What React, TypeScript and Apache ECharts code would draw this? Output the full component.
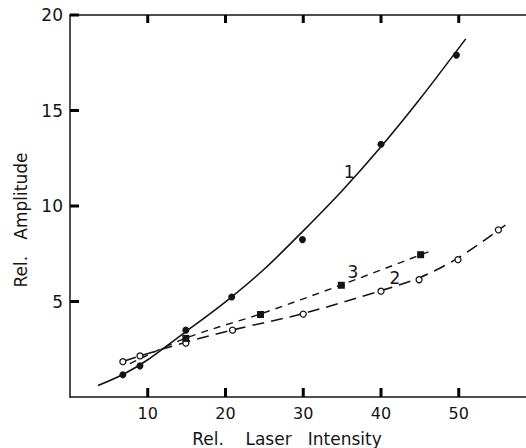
import React, { useEffect, useRef } from "react";
import * as echarts from "echarts";

const INK = "#141414";
const FONT = "DejaVu Sans";

// axis ranges and tick steps
const xRange = [0, 58.65];
const xStep = 10;
const yRange = [0, 20];
const yStep = 5;
const xTickValues = [10, 20, 30, 40, 50];
const yTickValues = [5, 10, 15, 20];

// Curve 1 (solid) measured points and drawn curve
const points1 = [[6.8, 1.16], [9.0, 1.63], [14.9, 3.5], [20.8, 5.24], [29.9, 8.24], [40, 13.23], [49.7, 17.9]];
const curve1 = [[3.6, 0.6], [7, 1.22], [10, 1.95], [15, 3.45], [20, 4.98], [25, 6.7], [30, 8.7], [35, 10.8], [40, 13.1], [45, 15.6], [50.9, 18.75]];

// Curve 2 (long dash, open circles)
const points2 = [[6.8, 1.85], [9.0, 2.15], [14.9, 2.82], [20.9, 3.5], [30, 4.34], [40, 5.54], [44.9, 6.14], [49.9, 7.19], [55.1, 8.75]];
const curve2 = [[7, 1.88], [9, 2.15], [15, 2.88], [21, 3.52], [30, 4.37], [40, 5.57], [45, 6.25], [50, 7.3], [56, 9.0]];

// Curve 3 (short dash, filled squares)
const points3 = [[14.9, 3.07], [24.5, 4.32], [34.9, 5.85], [45.1, 7.45]];
const curve3 = [[7.7, 1.75], [15, 3.1], [24.5, 4.35], [34.9, 5.87], [46.1, 7.6]];

// Curve labels
const curveLabels = [[35.9, 11.8, "1"], [41.8, 6.25, "2"], [36.4, 6.54, "3"]];

const xTitle = "Rel.    Laser   Intensity";
const yTitle = "Rel.   Amplitude";

export default function App() {
  const ref = useRef<HTMLDivElement>(null);
  useEffect(() => {
    const chart = echarts.init(ref.current!, null, { renderer: "svg" });
    const axisLine = { show: true, onZero: false, lineStyle: { color: INK, width: 1.5 } };
    const xFmt = (v: number) => (v > 0 && v <= 50 && Math.abs(v % xStep) < 1e-6 ? String(v) : "");
    const yFmt = (v: number) => (v > 0 ? String(v) : "");

    const titles = [
      {
        id: "xTitle",
        type: "text",
        x: 287,
        y: 439,
        style: { text: xTitle, fontSize: 17, fontFamily: FONT, fill: INK, align: "center", verticalAlign: "middle" },
      },
      {
        id: "yTitle",
        type: "text",
        x: 21,
        y: 220,
        rotation: Math.PI / 2,
        style: { text: yTitle, fontSize: 17, fontFamily: FONT, fill: INK, align: "center", verticalAlign: "middle" },
      },
    ];

    chart.setOption({
      animation: false,
      backgroundColor: "#ffffff",
      textStyle: { fontFamily: FONT, color: INK },
      grid: { left: 70, right: 0, top: 15, bottom: 51 },
      xAxis: [
        {
          type: "value",
          min: xRange[0],
          max: xRange[1],
          interval: xStep,
          position: "bottom",
          axisLine,
          axisTick: { show: false },
          axisLabel: { show: true, formatter: xFmt, fontSize: 16, margin: 8, color: INK, fontFamily: FONT, showMaxLabel: false, showMinLabel: false },
          splitLine: { show: false },
        },
        {
          type: "value",
          min: xRange[0],
          max: xRange[1],
          interval: xStep,
          position: "top",
          axisLine,
          axisTick: { show: false },
          axisLabel: { show: false },
          splitLine: { show: false },
        },
      ],
      yAxis: {
        type: "value",
        min: yRange[0],
        max: yRange[1],
        interval: yStep,
        axisLine,
        axisTick: { show: false },
        axisLabel: { show: true, formatter: yFmt, fontSize: 17, margin: 7, color: INK, fontFamily: FONT },
        splitLine: { show: false },
      },
      graphic: { elements: titles },
      series: [
        {
          type: "line",
          data: curve1,
          smooth: 0.3,
          showSymbol: false,
          lineStyle: { color: INK, width: 1.6 },
          z: 2,
        },
        {
          type: "line",
          data: curve2,
          smooth: 0.3,
          showSymbol: false,
          lineStyle: { color: INK, width: 1.6, type: [12, 7] },
          z: 2,
        },
        {
          type: "line",
          data: curve3,
          smooth: 0.3,
          showSymbol: false,
          lineStyle: { color: INK, width: 1.4, type: [7, 6] },
          z: 2,
        },
        {
          type: "scatter",
          data: points1,
          symbol: "circle",
          symbolSize: 7,
          itemStyle: { color: INK, opacity: 1 },
          z: 3,
        },
        {
          type: "scatter",
          data: points2,
          symbol: "circle",
          symbolSize: 6,
          itemStyle: { color: "#ffffff", borderColor: INK, borderWidth: 1.3, opacity: 1 },
          z: 3,
        },
        {
          type: "scatter",
          data: points3,
          symbol: "rect",
          symbolSize: 7,
          itemStyle: { color: INK, opacity: 1 },
          z: 3,
        },
        {
          type: "scatter",
          data: curveLabels,
          symbolSize: 0,
          silent: true,
          itemStyle: { opacity: 1 },
          label: {
            show: true,
            position: "inside",
            formatter: (p: any) => p.value[2],
            fontSize: 17,
            fontFamily: FONT,
            color: INK,
            opacity: 1,
            textBorderWidth: 0,
          },
          z: 4,
        },
      ],
    });

    // inward tick marks positioned through the axes' own scales
    const tickEls: any[] = [];
    const toPx = (pt: number[]) => chart.convertToPixel({ gridIndex: 0 }, pt) as number[];
    const tickStyle = { stroke: "#000000", lineWidth: 3 };
    xTickValues.forEach((v, i) => {
      const b = toPx([v, yRange[0]]);
      const t = toPx([v, yRange[1]]);
      tickEls.push({
        id: "tb" + i,
        type: "line",
        z: 10,
        shape: { x1: b[0], y1: b[1], x2: b[0], y2: b[1] - 9 },
        style: tickStyle,
      });
      tickEls.push({
        id: "tt" + i,
        type: "line",
        z: 10,
        shape: { x1: t[0], y1: t[1], x2: t[0], y2: t[1] + 8 },
        style: tickStyle,
      });
    });
    yTickValues.forEach((v, i) => {
      const p = toPx([xRange[0], v]);
      tickEls.push({
        id: "tl" + i,
        type: "line",
        z: 10,
        shape: { x1: p[0], y1: p[1], x2: p[0] + 9, y2: p[1] },
        style: tickStyle,
      });
    });
    chart.setOption({ graphic: { elements: [...titles, ...tickEls] } });

    return () => chart.dispose();
  }, []);
  return <div ref={ref} style={{ position: "absolute", left: 0, top: 0, width: 526, height: 448 }} />;
}
